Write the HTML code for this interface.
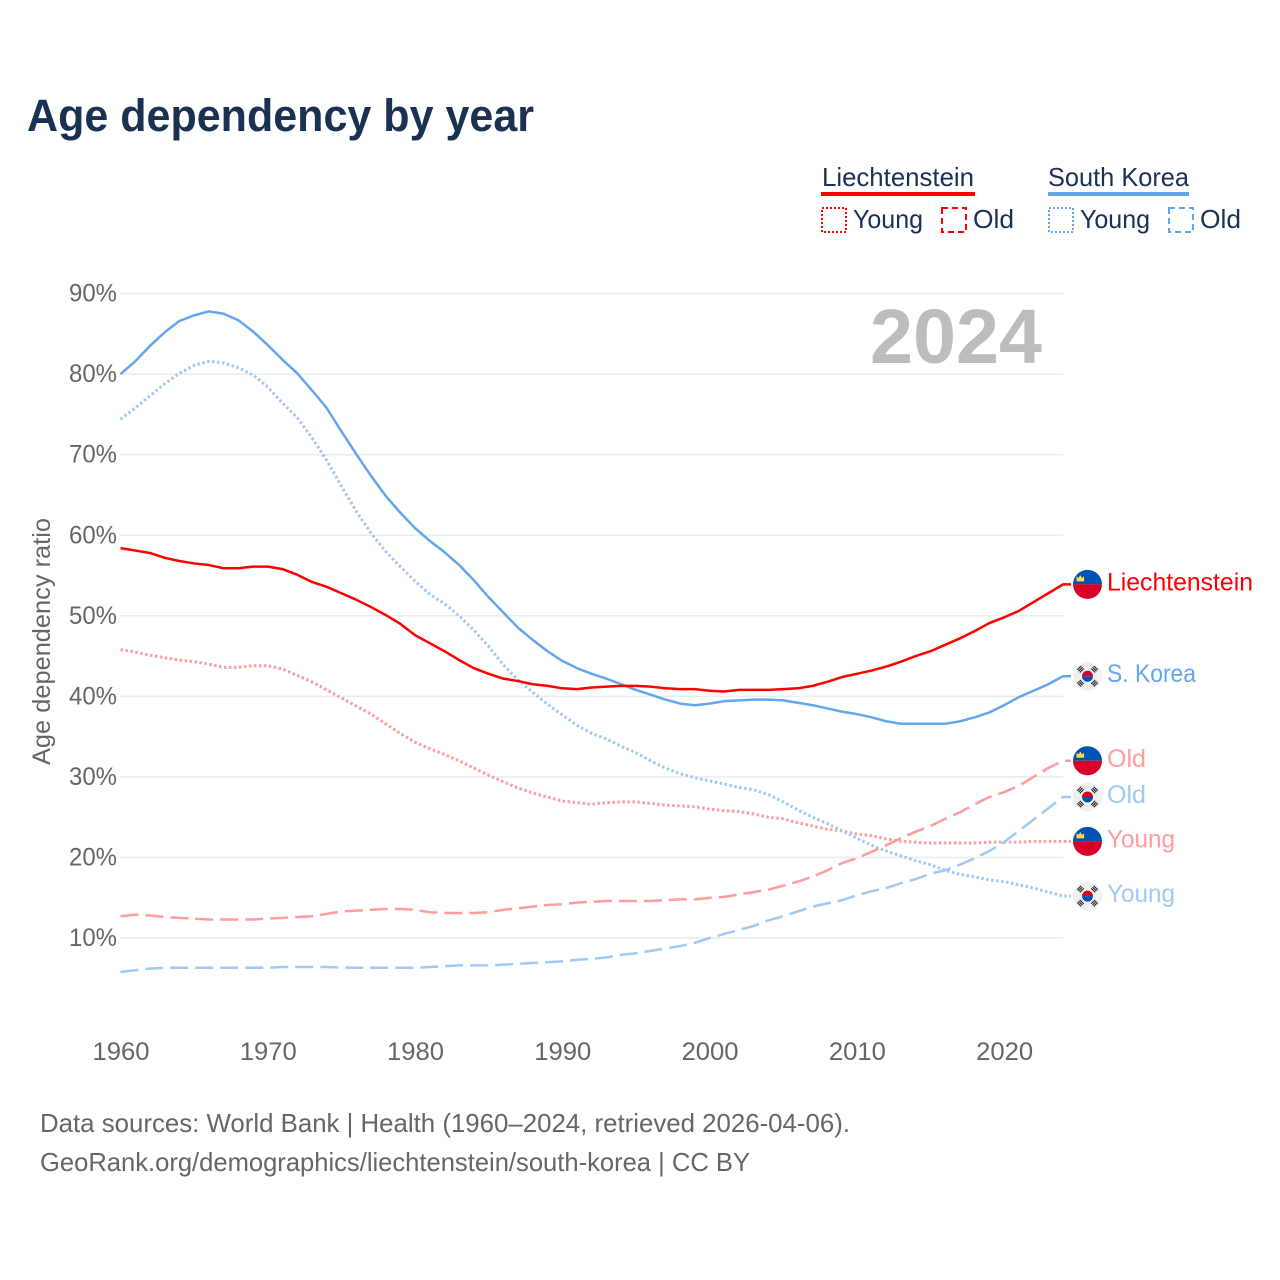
<!DOCTYPE html>
<html lang="en">
<head>
<meta charset="utf-8">
<title>Age dependency by year</title>
<style>
html,body{margin:0;padding:0;background:#fff;}
svg{display:block;font-family:"Liberation Sans",sans-serif;}
</style>
</head>
<body>
<svg id="chart" xmlns="http://www.w3.org/2000/svg" width="1280" height="1280" viewBox="0 0 1280 1280">
  <rect x="0" y="0" width="1280" height="1280" fill="#ffffff"/>
  <text x="27" y="131" font-size="45" font-weight="700" fill="#1a3152" textLength="507" lengthAdjust="spacingAndGlyphs">Age dependency by year</text>

  <g fill="#1a3152" font-size="26">
    <text x="822" y="186" textLength="152" lengthAdjust="spacingAndGlyphs">Liechtenstein</text>
    <rect x="821" y="192" width="154" height="4" fill="#ff0000"/>
    <rect x="822" y="208" width="24" height="24" fill="none" stroke="#ff0000" stroke-width="2" stroke-dasharray="2 2"/>
    <text x="853" y="228" textLength="70" lengthAdjust="spacingAndGlyphs">Young</text>
    <rect x="942" y="208" width="24" height="24" fill="none" stroke="#ff0000" stroke-width="2" stroke-dasharray="6 4"/>
    <text x="973" y="228" textLength="41" lengthAdjust="spacingAndGlyphs">Old</text>
    <text x="1048" y="186" textLength="141" lengthAdjust="spacingAndGlyphs">South Korea</text>
    <rect x="1048" y="192" width="141" height="4" fill="#62a6ee"/>
    <rect x="1049" y="208" width="24" height="24" fill="none" stroke="#62a6ee" stroke-width="2" stroke-dasharray="2 2"/>
    <text x="1080" y="228" textLength="70" lengthAdjust="spacingAndGlyphs">Young</text>
    <rect x="1169" y="208" width="24" height="24" fill="none" stroke="#62a6ee" stroke-width="2" stroke-dasharray="6 4"/>
    <text x="1200" y="228" textLength="41" lengthAdjust="spacingAndGlyphs">Old</text>
  </g>

  <g id="grid"></g>
  <g id="yticks"></g>
  <g id="xticks"></g>
  <text transform="translate(50,765) rotate(-90)" x="0" y="0" font-size="25" fill="#666666" textLength="247" lengthAdjust="spacingAndGlyphs">Age dependency ratio</text>
  <text x="870" y="363" font-size="77" font-weight="700" fill="#bdbdbd" textLength="172" lengthAdjust="spacingAndGlyphs">2024</text>

  <g id="series"></g>
  <g id="endlabels"></g>

  <g font-size="26" fill="#666666">
    <text x="40" y="1132" textLength="810" lengthAdjust="spacingAndGlyphs">Data sources: World Bank | Health (1960–2024, retrieved 2026-04-06).</text>
    <text x="40" y="1171" textLength="710" lengthAdjust="spacingAndGlyphs">GeoRank.org/demographics/liechtenstein/south-korea | CC BY</text>
  </g>
</svg>

<script>
const years = [
  1960,1961,1962,1963,1964,1965,1966,1967,1968,1969,
  1970,1971,1972,1973,1974,1975,1976,1977,1978,1979,
  1980,1981,1982,1983,1984,1985,1986,1987,1988,1989,
  1990,1991,1992,1993,1994,1995,1996,1997,1998,1999,
  2000,2001,2002,2003,2004,2005,2006,2007,2008,2009,
  2010,2011,2012,2013,2014,2015,2016,2017,2018,2019,
  2020,2021,2022,2023,2024
];
const xTickYears = [1960,1970,1980,1990,2000,2010,2020];
const yTickValues = [10,20,30,40,50,60,70,80,90];

const liechtensteinTotal = [
  58.4,58.1,57.8,57.2,56.8,56.5,56.3,55.9,55.9,56.1,
  56.1,55.8,55.1,54.2,53.6,52.8,52.0,51.1,50.1,49.0,
  47.6,46.6,45.6,44.5,43.5,42.8,42.2,41.9,41.5,41.3,
  41.0,40.9,41.1,41.2,41.3,41.3,41.2,41.0,40.9,40.9,
  40.7,40.6,40.8,40.8,40.8,40.9,41.0,41.3,41.8,42.4,
  42.8,43.2,43.7,44.3,45.0,45.6,46.4,47.2,48.1,49.1,
  49.8,50.6,51.7,52.8,53.9
];
const koreaTotal = [
  80.0,81.6,83.5,85.2,86.6,87.3,87.8,87.5,86.7,85.3,
  83.6,81.8,80.1,78.0,75.8,72.9,70.1,67.4,64.9,62.8,
  60.9,59.3,57.9,56.3,54.4,52.3,50.4,48.5,47.0,45.6,
  44.4,43.5,42.8,42.2,41.5,40.8,40.2,39.6,39.1,38.9,
  39.1,39.4,39.5,39.6,39.6,39.5,39.2,38.9,38.5,38.1,
  37.8,37.4,36.9,36.6,36.6,36.6,36.6,36.9,37.4,38.0,
  38.9,39.9,40.7,41.5,42.5
];
const liechtensteinYoung = [
  45.8,45.5,45.1,44.8,44.5,44.3,44.0,43.6,43.6,43.8,
  43.8,43.4,42.6,41.8,40.8,39.8,38.8,37.8,36.6,35.4,
  34.3,33.5,32.8,32.0,31.1,30.2,29.4,28.6,28.0,27.5,
  27.0,26.8,26.6,26.8,26.9,26.9,26.7,26.5,26.4,26.3,
  26.0,25.8,25.7,25.4,25.0,24.8,24.3,23.9,23.5,23.3,
  22.9,22.7,22.3,22.0,21.9,21.8,21.8,21.8,21.8,21.9,
  21.9,21.9,22.0,22.0,22.0
];
const koreaYoung = [
  74.4,75.8,77.3,78.8,80.1,81.1,81.6,81.4,80.8,79.9,
  78.4,76.4,74.6,72.1,69.3,66.1,63.0,60.3,58.0,56.1,
  54.3,52.7,51.5,50.0,48.2,46.2,43.9,42.0,40.5,39.0,
  37.7,36.4,35.4,34.7,33.8,33.0,32.0,31.1,30.4,29.9,
  29.5,29.1,28.7,28.4,27.8,26.9,25.9,25.0,24.2,23.3,
  22.4,21.5,20.8,20.2,19.6,19.1,18.4,17.9,17.6,17.2,
  17.0,16.6,16.2,15.7,15.2
];
const liechtensteinOld = [
  12.7,12.9,12.8,12.6,12.5,12.4,12.3,12.3,12.3,12.3,
  12.4,12.5,12.6,12.7,13.0,13.3,13.4,13.5,13.6,13.6,
  13.5,13.2,13.1,13.1,13.1,13.2,13.5,13.7,13.9,14.1,
  14.2,14.4,14.5,14.6,14.6,14.6,14.6,14.7,14.8,14.8,
  15.0,15.1,15.4,15.7,16.0,16.5,17.0,17.6,18.4,19.3,
  19.9,20.7,21.5,22.4,23.2,23.9,24.8,25.6,26.6,27.5,
  28.1,28.9,30.0,31.1,32.0
];
const koreaOld = [
  5.8,6.0,6.2,6.3,6.3,6.3,6.3,6.3,6.3,6.3,
  6.3,6.4,6.4,6.4,6.4,6.35,6.3,6.3,6.3,6.3,
  6.3,6.4,6.5,6.6,6.6,6.6,6.7,6.8,6.9,7.0,
  7.1,7.3,7.4,7.6,7.9,8.1,8.4,8.7,9.0,9.4,
  10.0,10.5,11.0,11.5,12.2,12.7,13.3,13.9,14.3,14.7,
  15.3,15.8,16.2,16.8,17.3,18.0,18.4,19.1,19.9,20.8,
  21.9,23.3,24.7,26.1,27.5
];

const SVG_NS = 'http://www.w3.org/2000/svg';
const xScale = function (year) { return 120.5 + (year - 1960) * (1063 - 120.5) / 64; };
const yScale = function (value) { return 938 - (value - 10) * 8.055; };

function make(tag, attrs, parent, content) {
  const el = document.createElementNS(SVG_NS, tag);
  Object.keys(attrs).forEach(function (k) { el.setAttribute(k, attrs[k]); });
  if (content !== undefined) { el.textContent = content; }
  parent.appendChild(el);
  return el;
}

const gridGroup = document.getElementById('grid');
const yTickGroup = document.getElementById('yticks');
yTickValues.forEach(function (v) {
  const line = make('line', { x1: 120, x2: 1063, y1: yScale(v), y2: yScale(v), stroke: '#ececec', 'stroke-width': 1.5 }, gridGroup);
  
  
  const label = make('text', { x: 69, y: yScale(v) + 8, 'font-size': 25, fill: '#666666', textLength: 48, lengthAdjust: 'spacingAndGlyphs' }, yTickGroup, v + '%');
  
  
});

const xTickGroup = document.getElementById('xticks');
xTickYears.forEach(function (yr) {
  const label = make('text', { x: xScale(yr) - 28, y: 1060, 'font-size': 25, fill: '#666666', textLength: 57, lengthAdjust: 'spacingAndGlyphs' }, xTickGroup, String(yr));
  
  
});

function linePath(values) {
  const pts = values.map(function (v, i) {
    return xScale(years[i]).toFixed(2) + ',' + yScale(v).toFixed(2);
  });
  const last = values[values.length - 1];
  pts.push('1071,' + yScale(last).toFixed(2));
  return 'M' + pts.join('L');
}

const seriesGroup = document.getElementById('series');
function drawSeries(name, values, color, dash, width) {
  const attrs = { d: linePath(values), fill: 'none', stroke: color, 'stroke-width': width, 'stroke-linejoin': 'round' };
  if (dash) { attrs['stroke-dasharray'] = dash; }
  const path = make('path', attrs, seriesGroup);
  
  
}
const RED = '#ff0000', BLUE = '#62a6ee', LIGHT_RED = '#ff9c9c', LIGHT_BLUE = '#a2c9f3';
const DOTS = '2.5 2.5', DASHES = '18 7';
drawSeries('line-liechtenstein-young', liechtensteinYoung, LIGHT_RED, DOTS, 3);
drawSeries('line-south-korea-young', koreaYoung, LIGHT_BLUE, DOTS, 3);
drawSeries('line-liechtenstein-old', liechtensteinOld, LIGHT_RED, DASHES, 2.5);
drawSeries('line-south-korea-old', koreaOld, LIGHT_BLUE, DASHES, 2.5);
drawSeries('line-south-korea-total', koreaTotal, BLUE, null, 2.5);
drawSeries('line-liechtenstein-total', liechtensteinTotal, RED, null, 2.5);

const endGroup = document.getElementById('endlabels');
function flagLiechtenstein(cy, parent) {
  const g = make('g', {}, parent);
  make('path', { d: 'M1073 ' + cy + 'a14.5 14.5 0 0 1 29 0z', fill: '#0052b4' }, g);
  make('path', { d: 'M1073 ' + cy + 'a14.5 14.5 0 0 0 29 0z', fill: '#d80027' }, g);
  make('path', { d: 'M1076.5 ' + (cy - 3) + 'v-5l2 1.5 1.8-2.8 1.8 2.8 2-1.5v5z', fill: '#ffda44' }, g);
  return g;
}
function flagKorea(cy, parent) {
  const g = make('g', {}, parent);
  make('circle', { cx: 1087.5, cy: cy, r: 14.5, fill: '#f0f0f0' }, g);
  make('path', { d: 'M1082 ' + cy + 'a5.5 5.5 0 0 1 11 0z', fill: '#d80027' }, g);
  make('path', { d: 'M1082 ' + cy + 'a5.5 5.5 0 0 0 11 0z', fill: '#0052b4' }, g);
  const offsets = [[-7, -7, -45], [7, -7, 45], [-7, 7, 45], [7, 7, -45]];
  offsets.forEach(function (o) {
    const cx = 1087.5 + o[0], c = cy + o[1];
    [-1.8, 0, 1.8].forEach(function (d) {
      make('rect', { x: cx - 2.8, y: c + d - 0.55, width: 5.6, height: 1.1, fill: '#222222', transform: 'rotate(' + o[2] + ' ' + cx + ' ' + c + ')' }, g);
    });
  });
  return g;
}
function endLabel(name, text, values, color, flagFn, width) {
  const cy = yScale(values[values.length - 1]);
  const flag = flagFn(cy, endGroup);
  
  
  const label = make('text', { x: 1107, y: cy + 6, 'font-size': 25, fill: color, textLength: width, lengthAdjust: 'spacingAndGlyphs' }, endGroup, text);
  
  
}
endLabel('liechtenstein-total', 'Liechtenstein', liechtensteinTotal, RED, flagLiechtenstein, 146);
endLabel('south-korea-total', 'S. Korea', koreaTotal, BLUE, flagKorea, 89);
endLabel('liechtenstein-old', 'Old', liechtensteinOld, LIGHT_RED, flagLiechtenstein, 39);
endLabel('south-korea-old', 'Old', koreaOld, LIGHT_BLUE, flagKorea, 39);
endLabel('liechtenstein-young', 'Young', liechtensteinYoung, LIGHT_RED, flagLiechtenstein, 68);
endLabel('south-korea-young', 'Young', koreaYoung, LIGHT_BLUE, flagKorea, 68);
</script>
</body>
</html>
